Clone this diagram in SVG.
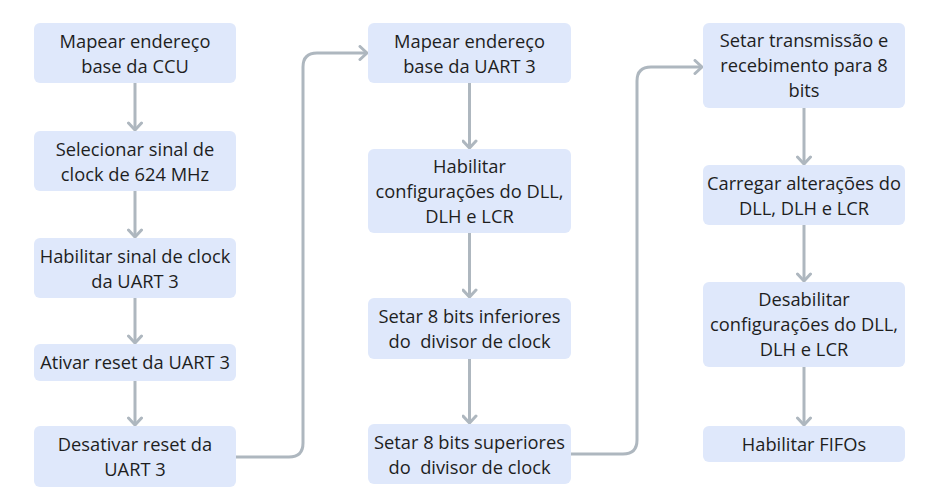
<svg xmlns="http://www.w3.org/2000/svg" width="946" height="499" viewBox="0 0 946 499">
<defs>
<style>
.box{fill:#dfe8fb;}
.t{font-family:"Open Sans","Noto Sans",sans-serif;font-size:18.3px;fill:#1e1e1e;text-anchor:middle;white-space:pre;}
.c{fill:none;stroke:#aeb7bf;stroke-width:3;stroke-linejoin:round;}
</style>
<marker id="ah" markerUnits="userSpaceOnUse" markerWidth="16" markerHeight="16" refX="9" refY="8" orient="auto" viewBox="0 0 16 16">
<path d="M2,1.5 L9,8 L2,14.5" fill="none" stroke="#aeb7bf" stroke-width="3" stroke-linecap="round" stroke-linejoin="round"/>
</marker>
</defs>
<rect width="946" height="499" fill="#ffffff"/>
<g id="connectors">
<path class="c" d="M135,83 V130" marker-end="url(#ah)"/>
<path class="c" d="M135,191 V237" marker-end="url(#ah)"/>
<path class="c" d="M135,298 V343" marker-end="url(#ah)"/>
<path class="c" d="M135,381 V425" marker-end="url(#ah)"/>
<path class="c" d="M236,457 H289 Q303,457 303,443 V67 Q303,53 317,53 H367" marker-end="url(#ah)"/>
<path class="c" d="M469.5,83 V148" marker-end="url(#ah)"/>
<path class="c" d="M469.5,233 V297" marker-end="url(#ah)"/>
<path class="c" d="M469.5,359 V423" marker-end="url(#ah)"/>
<path class="c" d="M571,454 H623 Q637,454 637,440 V81 Q637,67 651,67 H702" marker-end="url(#ah)"/>
<path class="c" d="M804,108 V164" marker-end="url(#ah)"/>
<path class="c" d="M804,225 V281" marker-end="url(#ah)"/>
<path class="c" d="M804,367 V425" marker-end="url(#ah)"/>
</g>
<g id="n1"><rect class="box" x="34" y="23" width="202" height="60" rx="6"/><text class="t" x="135" y="47.5">Mapear endereço</text><text class="t" x="135" y="72.5">base da CCU</text></g>
<g id="n2"><rect class="box" x="34" y="131" width="202" height="60" rx="6"/><text class="t" x="135" y="155.5">Selecionar sinal de</text><text class="t" x="135" y="180.5">clock de 624 MHz</text></g>
<g id="n3"><rect class="box" x="34" y="238" width="202" height="60" rx="6"/><text class="t" x="135" y="262.5">Habilitar sinal de clock</text><text class="t" x="135" y="287.5">da UART 3</text></g>
<g id="n4"><rect class="box" x="34" y="344" width="202" height="37" rx="6"/><text class="t" x="135" y="369">Ativar reset da UART 3</text></g>
<g id="n5"><rect class="box" x="34" y="426" width="202" height="61" rx="6"/><text class="t" x="135" y="451">Desativar reset da</text><text class="t" x="135" y="476">UART 3</text></g>
<g id="n6"><rect class="box" x="368" y="23" width="203" height="60" rx="6"/><text class="t" x="469.5" y="47.5">Mapear endereço</text><text class="t" x="469.5" y="72.5">base da UART 3</text></g>
<g id="n7"><rect class="box" x="368" y="149" width="203" height="84" rx="6"/><text class="t" x="469.5" y="172.5">Habilitar</text><text class="t" x="469.5" y="197.5">configurações do DLL,</text><text class="t" x="469.5" y="222.5">DLH e LCR</text></g>
<g id="n8"><rect class="box" x="368" y="298" width="203" height="61" rx="6"/><text class="t" x="469.5" y="323">Setar 8 bits inferiores</text><text class="t" x="469.5" y="348">do  divisor de clock</text></g>
<g id="n9"><rect class="box" x="368" y="424" width="203" height="60" rx="6"/><text class="t" x="469.5" y="448.5">Setar 8 bits superiores</text><text class="t" x="469.5" y="473.5">do  divisor de clock</text></g>
<g id="n10"><rect class="box" x="703" y="23" width="202" height="85" rx="6"/><text class="t" x="804" y="47">Setar transmissão e</text><text class="t" x="804" y="72">recebimento para 8</text><text class="t" x="804" y="97">bits</text></g>
<g id="n11"><rect class="box" x="703" y="165" width="202" height="60" rx="6"/><text class="t" x="804" y="189.5">Carregar alterações do</text><text class="t" x="804" y="214.5">DLL, DLH e LCR</text></g>
<g id="n12"><rect class="box" x="703" y="282" width="202" height="85" rx="6"/><text class="t" x="804" y="306">Desabilitar</text><text class="t" x="804" y="331">configurações do DLL,</text><text class="t" x="804" y="356">DLH e LCR</text></g>
<g id="n13"><rect class="box" x="703" y="426" width="202" height="36" rx="6"/><text class="t" x="804" y="450.5">Habilitar FIFOs</text></g>
</svg>
